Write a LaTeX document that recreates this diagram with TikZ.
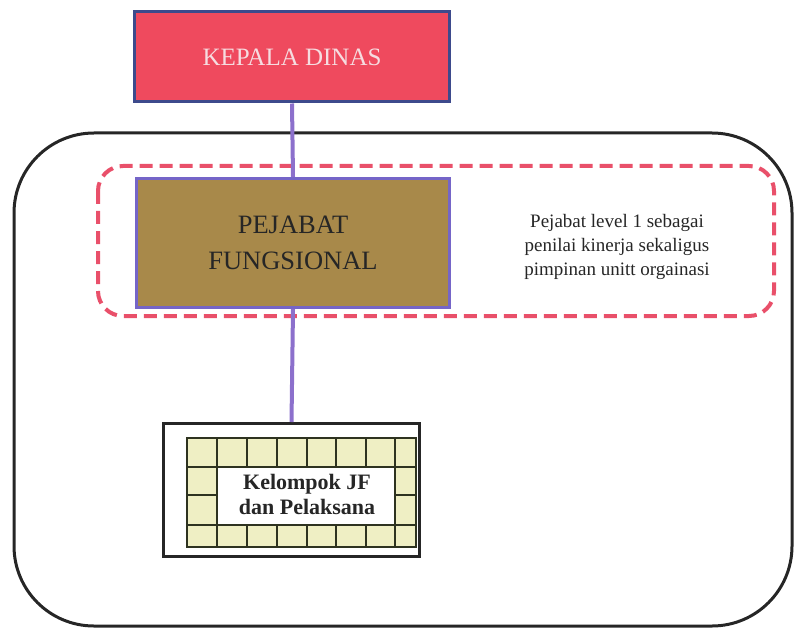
\documentclass[tikz,border=0pt]{standalone}
\usepackage{fontspec}
\setmainfont{Liberation Serif}
\definecolor{kdred}{HTML}{EF4A5E}
\definecolor{kdborder}{HTML}{3D4A8C}
\definecolor{kdtext}{HTML}{F6DCE0}
\definecolor{pfbrown}{HTML}{A8894A}
\definecolor{pfborder}{HTML}{7565C8}
\definecolor{linkpurple}{HTML}{8C70CC}
\definecolor{dashred}{HTML}{E9506A}
\definecolor{gridfill}{HTML}{EFEFC4}
\definecolor{gridline}{HTML}{2E3320}
\tikzset{
  x=1pt, y=-1pt,
  kdbox/.style={draw=kdborder, line width=3pt, fill=kdred, minimum width=315pt, minimum height=90pt, text=kdtext, font=\fontsize{25}{30}\selectfont, inner sep=0pt},
  pfbox/.style={draw=pfborder, line width=3pt, fill=pfbrown, minimum width=313pt, minimum height=129pt, text=black!85, font=\fontsize{26.5}{36}\selectfont, align=center, inner sep=0pt},
  link/.style={draw=linkpurple, line width=4pt},
  outerframe/.style={draw=black!85, line width=3pt, rounded corners=80pt},
  dashframe/.style={draw=dashred, line width=4pt, dash pattern=on 13pt off 7pt, rounded corners=25pt},
  note/.style={font=\fontsize{19}{24}\selectfont, align=center, text=black!85},
  gridc/.style={draw=gridline, line width=1.3pt},
  kjf/.style={font=\bfseries\fontsize{22}{25}\selectfont, align=center, text=black!85},
}
\begin{document}
\begin{tikzpicture}
\useasboundingbox (0,0) rectangle (794,628);
% outer frame
\draw[outerframe] (14,133) rectangle (792,626);
% dashed frame
\draw[dashframe] (98,166) rectangle (774,316);
% boxes
\node[kdbox] (kd) at (292,57) {KEPALA DINAS};
\node[pfbox] (pf) at (293,243) {PEJABAT\\FUNGSIONAL};
\node[note] (nt) at (617,247) {Pejabat level 1 sebagai\\penilai kinerja sekaligus\\pimpinan unitt orgainasi};
% Kelompok box
\node[draw=black!85, line width=3pt, fill=white, minimum width=256pt, minimum height=133pt, inner sep=0pt] (kb) at (291.5,490) {};
% grid
\fill[gridfill] (187,438) rectangle (416,547);
\fill[white] (217,467) rectangle (395,525);
\draw[gridc] (187,438) rectangle (416,547);
\draw[gridc] (187,467) -- (416,467);
\draw[gridc] (187,525) -- (416,525);
\draw[gridc] (217,467) -- (217,525);
\draw[gridc] (395,467) -- (395,525);
\draw[gridc] (187,495) -- (217,495);
\draw[gridc] (395,495) -- (416,495);
\foreach \x in {217,247,277,307,336,366,395} {
  \draw[gridc] (\x,438) -- (\x,467);
  \draw[gridc] (\x,525) -- (\x,547);
}
\node[kjf] (kt) at (307,494) {Kelompok JF\\dan Pelaksana};
% connectors
\draw[link] (kd.south) -- (pf.north);
\draw[link] (pf.south) -- (kb.north);
\end{tikzpicture}
\end{document}
